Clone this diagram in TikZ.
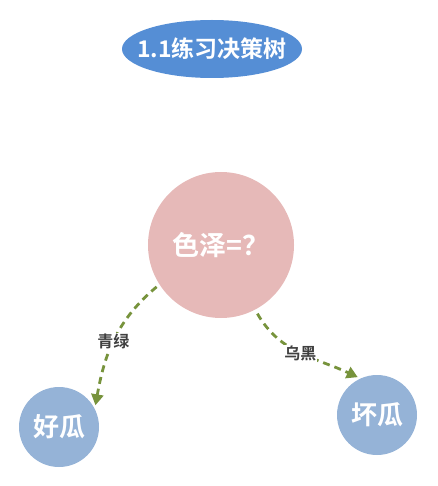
\documentclass[tikz,border=0pt]{standalone}
\usepackage{fontspec}
\newfontfamily\cjk{Noto Sans CJK SC}[BoldFont={Noto Sans CJK SC Bold}]
\usetikzlibrary{arrows.meta,shapes.geometric}
\definecolor{titleblue}{HTML}{558ED5}
\definecolor{rootpink}{HTML}{E6B9B8}
\definecolor{leafblue}{HTML}{95B3D7}
\definecolor{arrowgreen}{HTML}{77933C}
\definecolor{labelgray}{HTML}{404040}
\begin{document}
\begin{tikzpicture}[x=1pt,y=-1pt,
  leaf/.style={circle, fill=leafblue, minimum size=80pt, inner sep=0pt, text=white, font=\cjk\bfseries\fontsize{26}{26}\selectfont},
  branch/.style={-{Triangle[length=11pt,width=12pt]}, arrowgreen, line width=2.8pt, dash pattern=on 7pt off 5pt},
  branchlabel/.style={fill=white, inner sep=1pt, text=labelgray, font=\cjk\bfseries\fontsize{16}{16}\selectfont}]
\useasboundingbox (0,0) rectangle (437,486);
\node[ellipse, fill=titleblue, minimum width=180pt, minimum height=58pt, inner xsep=-12pt, inner ysep=0pt, text=white, font=\cjk\bfseries\fontsize{23}{23}\selectfont] (title) at (212,49) {1.1练习决策树};
\node[circle, fill=rootpink, minimum size=146pt, inner sep=0pt, text=white, font=\cjk\bfseries\fontsize{27}{27}\selectfont] (color) at (221,245) {色泽=？};
\node[leaf] (good) at (59,427) {好瓜};
\node[leaf] (bad) at (377,415) {坏瓜};
\draw [branch] (color.213) ++(-3,2) to[out=-140,in=80] node[branchlabel, pos=0.52] (green) {青绿} ([shift={(2,-1)}]good.31);
\draw [branch] (color.-62) ++(2,4) to[out=-60,in=155] node[branchlabel, pos=0.5] (black) {乌黑} ([shift={(-1,-2)}]bad.117);
\end{tikzpicture}
\end{document}
